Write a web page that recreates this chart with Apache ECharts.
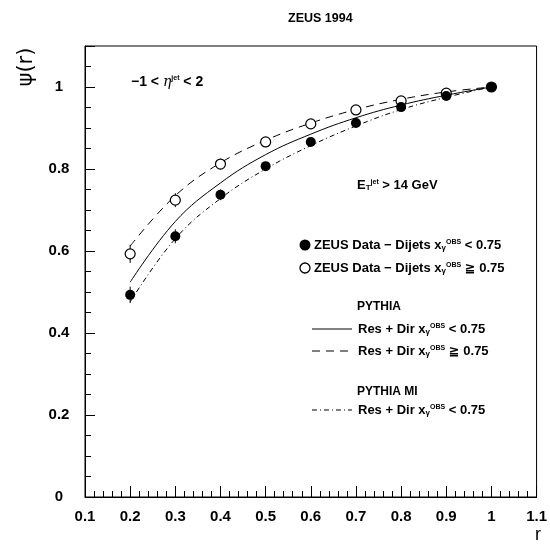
<!DOCTYPE html>
<html><head><meta charset="utf-8">
<script src="https://cdn.jsdelivr.net/npm/echarts@6/dist/echarts.min.js"></script>
<style>html,body{margin:0;padding:0;background:#fff}#c{width:550px;height:550px}</style>
</head><body><div id="c"></div>
<script>
// ---- data ----
const rValues      = [0.2, 0.3, 0.4, 0.5, 0.6, 0.7, 0.8, 0.9, 1.0];
const dataLow      = [0.493, 0.636, 0.737, 0.807, 0.866, 0.912, 0.951, 0.978, 1.0];
const dataLowErr   = [0.020, 0.017, 0.013, 0.010, 0.008, 0.006, 0.005, 0.004, 0.0];
const dataHigh     = [0.593, 0.724, 0.812, 0.866, 0.910, 0.944, 0.966, 0.985, 1.0];
const dataHighErr  = [0.022, 0.017, 0.013, 0.010, 0.008, 0.006, 0.005, 0.004, 0.0];
const pythiaLow    = [0.524, 0.672, 0.766, 0.835, 0.885, 0.925, 0.956, 0.980, 1.0];
const pythiaHigh   = [0.612, 0.735, 0.815, 0.870, 0.912, 0.945, 0.970, 0.988, 1.0];
const pythiaMILow  = [0.476, 0.630, 0.728, 0.800, 0.857, 0.905, 0.945, 0.975, 1.0];
const titleText = 'ZEUS 1994';

const FONT = 'Liberation Sans, Arial, DejaVu Sans, sans-serif';
const pairs = (ys) => rValues.map((r, i) => [r, ys[i]]);

function errSeries(vals, errs) {
  return {
    type: 'custom', z: 1, silent: true,
    renderItem: (params, api) => {
      const x = api.value(0), y = api.value(1), e = api.value(2);
      const p1 = api.coord([x, y - e]), p2 = api.coord([x, y + e]);
      return { type: 'line', shape: { x1: p1[0], y1: p1[1], x2: p2[0], y2: p2[1] },
               style: { stroke: '#000', lineWidth: 1 } };
    },
    data: rValues.map((r, i) => [r, vals[i], errs[i]])
  };
}

const rich = {
  sup: { fontSize: 7, fontWeight: 'bold', fontFamily: FONT, verticalAlign: 'top', padding: [0, 0, 6, 0] },
  sub: { fontSize: 8, fontWeight: 'bold', fontFamily: FONT, verticalAlign: 'bottom', padding: [4, 0, 0, 0] },
  gr:  { fontSize: 14, fontStyle: 'italic', fontFamily: 'DejaVu Serif, serif' }
};
function txt(x, y, text, size) {
  return { type: 'text', x: x, y: y, style: { text: text, fontSize: size || 13, fontWeight: 'bold',
    fontFamily: FONT, fill: '#000', verticalAlign: 'middle', rich: rich } };
}

const chart = echarts.init(document.getElementById('c'));
chart.setOption({
  animation: false,
  backgroundColor: '#fff',
  title: { text: titleText, left: 283, top: 7,
    textStyle: { fontSize: 12.5, fontWeight: 'bold', fontFamily: FONT, color: '#000' } },
  grid: { left: 85, right: 11, top: 46, bottom: 53, show: true, borderColor: '#000', borderWidth: 1 },
  xAxis: {
    type: 'value', min: 0.1, max: 1.1, interval: 0.1,
    axisLine: { lineStyle: { color: '#000', width: 1 } },
    axisTick: { inside: true, length: 11, lineStyle: { color: '#000' } },
    minorTick: { show: true, splitNumber: 5, length: 6, lineStyle: { color: '#000' } },
    splitLine: { show: false },
    axisLabel: { margin: 12, fontSize: 15, fontWeight: 'bold', fontFamily: FONT, color: '#000' }
  },
  yAxis: [{
    type: 'value', min: 0, max: 1.1, interval: 0.2,
    axisLine: { lineStyle: { color: '#000', width: 1 } },
    axisTick: { inside: true, length: 10, lineStyle: { color: '#000' } },
    splitLine: { show: false },
    axisLabel: { margin: 26, align: 'center', fontSize: 15, fontWeight: 'bold', fontFamily: FONT, color: '#000',
      formatter: v => (v > 1.05 ? '' : String(v)) }
  }, {
    type: 'value', min: 0, max: 1.1, interval: 0.05, position: 'left',
    axisLine: { show: false },
    axisTick: { inside: true, length: 6, lineStyle: { color: '#000' } },
    splitLine: { show: false },
    axisLabel: { show: false }
  }],
  series: [
    { type: 'line', name: 'PYTHIA Res + Dir x<0.75', smooth: 0.4, showSymbol: false, data: pairs(pythiaLow),
      lineStyle: { color: '#000', width: 1 }, z: 2 },
    { type: 'line', name: 'PYTHIA Res + Dir x>=0.75', smooth: 0.4, showSymbol: false, data: pairs(pythiaHigh),
      lineStyle: { color: '#000', width: 1, type: [8, 6] }, z: 2 },
    { type: 'line', name: 'PYTHIA MI Res + Dir x<0.75', smooth: 0.4, showSymbol: false, data: pairs(pythiaMILow),
      lineStyle: { color: '#000', width: 1, type: [5, 3, 1, 3] }, z: 2 },
    errSeries(dataLow, dataLowErr),
    errSeries(dataHigh, dataHighErr),
    { type: 'scatter', name: 'ZEUS Data x>=0.75', data: pairs(dataHigh), symbol: 'circle', symbolSize: 10,
      itemStyle: { color: '#fff', borderColor: '#000', borderWidth: 1.2, opacity: 1 }, z: 5 },
    { type: 'scatter', name: 'ZEUS Data x<0.75', data: pairs(dataLow), symbol: 'circle', symbolSize: 10,
      itemStyle: { color: '#000', opacity: 1 }, z: 6 }
  ],
  graphic: [
    { type: 'text', x: 27, y: 67, rotation: Math.PI / 2,
      style: { text: 'ψ(r)', fontSize: 21, fontFamily: 'DejaVu Sans, sans-serif', fill: '#000', align: 'center', verticalAlign: 'middle' } },
    { type: 'text', x: 538, y: 535,
      style: { text: 'r', fontSize: 18, fontFamily: FONT, fill: '#000', align: 'center', verticalAlign: 'middle' } },
    txt(131, 82, '−1 < {gr|η}{sup|jet} < 2', 14),
    txt(357, 185, 'E{sub|T}{sup|jet} > 14 GeV', 13),
    { type: 'circle', shape: { cx: 305, cy: 245, r: 5.5 }, style: { fill: '#000' } },
    txt(314, 245, 'ZEUS Data − Dijets x{sub|γ}{sup|OBS} < 0.75'),
    { type: 'circle', shape: { cx: 305, cy: 268, r: 5 }, style: { fill: '#fff', stroke: '#000', lineWidth: 1.3 } },
    txt(314, 268, 'ZEUS Data − Dijets x{sub|γ}{sup|OBS} ≧ 0.75'),
    txt(357, 307, 'PYTHIA', 12),
    { type: 'line', shape: { x1: 312, y1: 329, x2: 352, y2: 329 }, style: { stroke: '#000', lineWidth: 1 } },
    txt(358, 329, 'Res + Dir x{sub|γ}{sup|OBS} < 0.75'),
    { type: 'line', shape: { x1: 312, y1: 351, x2: 352, y2: 351 }, style: { stroke: '#000', lineWidth: 1, lineDash: [8, 6] } },
    txt(358, 351, 'Res + Dir x{sub|γ}{sup|OBS} ≧ 0.75'),
    txt(357, 392, 'PYTHIA MI', 12),
    { type: 'line', shape: { x1: 312, y1: 410, x2: 352, y2: 410 }, style: { stroke: '#000', lineWidth: 1, lineDash: [5, 3, 1, 3] } },
    txt(358, 410, 'Res + Dir x{sub|γ}{sup|OBS} < 0.75')
  ]
});
</script>
</body></html>
